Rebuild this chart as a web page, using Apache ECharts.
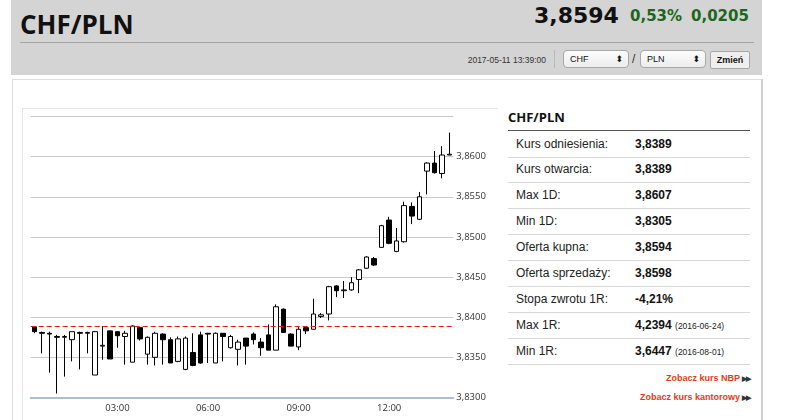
<!DOCTYPE html>
<html>
<head>
    <meta charset="utf-8">
    <title>CHF/PLN</title>
    <script src="https://cdn.jsdelivr.net/npm/echarts@6.0.0/dist/echarts.min.js"></script>
    <style>
        body {
            margin: 0;
            width: 786px;
            height: 420px;
            overflow: hidden;
            background: #fff;
            position: relative;
            font-family: 'Liberation Sans', Arial, sans-serif;
        }
        .abs { position: absolute; }
        #hdr {
            left: 11px; top: 0; width: 751px; height: 75px;
            background: #d4d4d4;
        }
        #hdrTitle {
            left: 20px; top: 11px;
            font: bold 26px/26px 'Open Sans', sans-serif;
            color: #111;
        }
        #hdrLine { left: 20px; top: 42px; width: 734px; height: 1px; background: #a4a4a4; }
        .num { font-family: 'DejaVu Sans', sans-serif; font-weight: bold; white-space: nowrap; }
        #price { left: 534px; top: 5px; font-size: 22px; line-height: 22px; color: #111; }
        #pct { left: 630px; top: 9px; font-size: 15px; line-height: 15px; color: #1c661c; }
        #chg { left: 691px; top: 9px; font-size: 15px; line-height: 15px; color: #1c661c; }
        #date { right: 240px; top: 54px; font-size: 8.5px; line-height: 12px; color: #333; }
        #vsep { left: 554px; top: 50px; width: 1px; height: 18px; background: #b8b8b8; }
        .sel {
            top: 50px; height: 18px; width: 66px; box-sizing: border-box;
            border: 1px solid #a8a8a8; border-radius: 4px;
            background: linear-gradient(#fdfdfd, #ececec);
            font-size: 9px; line-height: 16px; padding-left: 6px; color: #111;
        }
        .sel .arr { position: absolute; right: 5px; top: 0; font: 9px/16px 'DejaVu Sans', sans-serif; }
        #slash { left: 632px; top: 52px; font-size: 12px; line-height: 14px; color: #333; }
        #btn {
            left: 710px; top: 51px; width: 40px; height: 18px; box-sizing: border-box;
            border: 1px solid #a8a8a8; border-radius: 2px; background: #efefef;
            font-size: 9px; font-weight: bold; line-height: 16px; text-align: center; color: #111;
        }
        #outerBox {
            left: 12px; top: 79px; width: 748px; height: 360px;
            border: 1px solid #dedede; border-right: 2px solid #cfcfcf;
        }
        #innerBox {
            left: 22px; top: 108px; width: 475px; height: 330px;
            border-left: 1px solid #e6e6e6; border-top: 1px solid #e6e6e6;
        }
        #chart { left: 0; top: 100px; width: 500px; height: 320px; }
        #tblTitle { left: 508px; top: 109px; font: bold 13px/16px 'Open Sans', sans-serif; color: #111; }
        #tblLine { left: 508px; top: 130px; width: 242px; height: 1px; background: #555; }
        .row {
            left: 508px; width: 242px; height: 26px; box-sizing: border-box;
            border-bottom: 1px solid #d8d8d8; font-size: 12px; line-height: 25px; color: #222;
        }
        .row .lab { position: absolute; left: 8px; }
        .row .val { position: absolute; left: 127px; font-weight: bold; color: #111; }
        .row .dt { font-size: 8.5px; font-weight: normal; color: #222; }
        .lnk { right: 36px; font-size: 9px; font-weight: bold; color: #e63a1c; white-space: nowrap; }
        .lnk span { color: #333; font-size: 7px; letter-spacing: -1px; margin-left: 2px; }
    </style>
</head>
<body>
<div class="abs" id="hdr"></div>
<div class="abs" id="hdrTitle">CHF/PLN</div>
<div class="abs" id="hdrLine"></div>
<div class="abs num" id="price">3,8594</div>
<div class="abs num" id="pct">0,53%</div>
<div class="abs num" id="chg">0,0205</div>
<div class="abs" id="date">2017-05-11 13:39:00</div>
<div class="abs" id="vsep"></div>
<div class="abs sel" style="left:563px">CHF<span class="arr">&#x2B0D;</span></div>
<div class="abs" id="slash">/</div>
<div class="abs sel" style="left:640px">PLN<span class="arr">&#x2B0D;</span></div>
<div class="abs" id="btn">Zmień</div>

<div class="abs" id="outerBox"></div>
<div class="abs" id="innerBox"></div>
<div class="abs" id="chart"></div>

<div class="abs" id="tblTitle">CHF/PLN</div>
<div class="abs" id="tblLine"></div>
<div id="tbl"></div>
<div class="abs lnk" style="top:373px">Zobacz kurs NBP<span>&#9654;&#9654;</span></div>
<div class="abs lnk" style="top:392px">Zobacz kurs kantorowy<span>&#9654;&#9654;</span></div>

<script>
    // 15-minute candles, 11 May 2017
    const times = [
        '00:15','00:30','00:45','01:00','01:15','01:30','01:45','02:00',
        '02:15','02:30','02:45','03:00','03:15','03:30','03:45','04:00',
        '04:15','04:30','04:45','05:00','05:15','05:30','05:45','06:00',
        '06:15','06:30','06:45','07:00','07:15','07:30','07:45','08:00',
        '08:15','08:30','08:45','09:00','09:15','09:30','09:45','10:00',
        '10:15','10:30','10:45','11:00','11:15','11:30','11:45','12:00',
        '12:15','12:30','12:45','13:00','13:15','13:30','13:45','14:00'
    ];
    // [open, close, low, high]
    const candles = [
        [3.8388, 3.8382, 3.8380, 3.8389], [3.8381, 3.8380, 3.8355, 3.8382],
        [3.8380, 3.8379, 3.8331, 3.8382], [3.8376, 3.8375, 3.8305, 3.8378],
        [3.8375, 3.8376, 3.8326, 3.8378], [3.8372, 3.8382, 3.8345, 3.8382],
        [3.8381, 3.8380, 3.8335, 3.8382], [3.8380, 3.8381, 3.8355, 3.8382],
        [3.8328, 3.8382, 3.8328, 3.8383], [3.8364, 3.8365, 3.8347, 3.8389],
        [3.8383, 3.8348, 3.8348, 3.8383], [3.8382, 3.8377, 3.8362, 3.8382],
        [3.8376, 3.8380, 3.8341, 3.8383], [3.8344, 3.8389, 3.8344, 3.8390],
        [3.8387, 3.8373, 3.8371, 3.8388], [3.8354, 3.8375, 3.8341, 3.8376],
        [3.8350, 3.8380, 3.8340, 3.8382], [3.8379, 3.8372, 3.8341, 3.8380],
        [3.8372, 3.8343, 3.8343, 3.8375], [3.8345, 3.8373, 3.8344, 3.8376],
        [3.8335, 3.8374, 3.8334, 3.8376], [3.8356, 3.8340, 3.8339, 3.8380],
        [3.8378, 3.8343, 3.8342, 3.8382], [3.8380, 3.8379, 3.8343, 3.8380],
        [3.8343, 3.8380, 3.8343, 3.8381], [3.8380, 3.8376, 3.8345, 3.8380],
        [3.8362, 3.8376, 3.8361, 3.8378], [3.8360, 3.8369, 3.8340, 3.8372],
        [3.8374, 3.8364, 3.8341, 3.8374], [3.8379, 3.8372, 3.8366, 3.8381],
        [3.8369, 3.8362, 3.8352, 3.8374], [3.8378, 3.8359, 3.8359, 3.8391],
        [3.8359, 3.8413, 3.8359, 3.8416], [3.8410, 3.8381, 3.8381, 3.8411],
        [3.8379, 3.8364, 3.8364, 3.8380], [3.8363, 3.8385, 3.8359, 3.8388],
        [3.8387, 3.8383, 3.8379, 3.8389], [3.8385, 3.8404, 3.8385, 3.8423],
        [3.8401, 3.8403, 3.8399, 3.8405], [3.8404, 3.8438, 3.8396, 3.8439],
        [3.8439, 3.8433, 3.8425, 3.8440], [3.8433, 3.8434, 3.8424, 3.8445],
        [3.8434, 3.8443, 3.8433, 3.8450], [3.8447, 3.8459, 3.8430, 3.8460],
        [3.8461, 3.8475, 3.8460, 3.8476], [3.8473, 3.8465, 3.8464, 3.8475],
        [3.8487, 3.8514, 3.8487, 3.8515], [3.8521, 3.8492, 3.8491, 3.8525],
        [3.8482, 3.8495, 3.8481, 3.8511], [3.8494, 3.8539, 3.8493, 3.8544],
        [3.8538, 3.8526, 3.8516, 3.8543], [3.8522, 3.8550, 3.8521, 3.8556],
        [3.8582, 3.8592, 3.8553, 3.8593], [3.8592, 3.8580, 3.8579, 3.8607],
        [3.8579, 3.8602, 3.8573, 3.8613], [3.8602, 3.8603, 3.8602, 3.8630]
    ];
    const referenceRate = 3.8389;
    const timeTicks = ['03:00', '06:00', '09:00', '12:00'];
    const yMin = 3.830, yMax = 3.865, yStep = 0.005;

    const tableLabels = ['Kurs odniesienia:', 'Kurs otwarcia:', 'Max 1D:', 'Min 1D:', 'Oferta kupna:',
        'Oferta sprzedaży:', 'Stopa zwrotu 1R:', 'Max 1R:', 'Min 1R:'];
    const tableValues = ['3,8389', '3,8389', '3,8607', '3,8305', '3,8594', '3,8598', '-4,21%', '4,2394', '3,6447'];
    const tableDates = ['', '', '', '', '', '', '', '(2016-06-24)', '(2016-08-01)'];

    // side table
    const tbl = document.getElementById('tbl');
    tableLabels.forEach((lab, i) => {
        const row = document.createElement('div');
        row.className = 'abs row';
        row.style.top = (131.5 + 25.9 * i) + 'px';
        const dt = tableDates[i] ? ` <span class="dt">${tableDates[i]}</span>` : '';
        row.innerHTML = `<span class="lab">${lab}</span><span class="val">${tableValues[i]}${dt}</span>`;
        tbl.appendChild(row);
    });

    const showTick = (idx, val) => timeTicks.includes(val);

    const myChart = echarts.init(document.getElementById('chart'));
    myChart.setOption({
        animation: false,
        grid: { left: 30.7, right: 46.7, top: 16.5, bottom: 22.5 },
        xAxis: {
            type: 'category',
            data: times,
            boundaryGap: true,
            axisLine: { lineStyle: { color: '#aebdd1', width: 2 } },
            axisTick: { interval: showTick, alignWithLabel: true, length: 5, lineStyle: { color: '#aebdd1' } },
            axisLabel: { interval: showTick, margin: 6, fontSize: 9.5, color: '#333', fontFamily: 'Open Sans' },
            splitLine: { show: false }
        },
        yAxis: {
            type: 'value',
            position: 'right',
            min: yMin,
            max: yMax,
            interval: yStep,
            axisLine: { show: false },
            axisTick: { show: false },
            splitLine: { lineStyle: { color: '#c8c8c8', width: 1 } },
            axisLabel: {
                showMaxLabel: false,
                margin: 3,
                padding: [0, 0, 9, 0],
                fontSize: 9.5,
                color: '#333',
                fontFamily: 'Open Sans',
                formatter: v => v.toFixed(4).replace('.', ',')
            }
        },
        series: [{
            type: 'candlestick',
            data: candles,
            barWidth: 5,
            itemStyle: {
                color: '#ffffff',
                color0: '#000000',
                borderColor: '#000000',
                borderColor0: '#000000',
                borderWidth: 1
            },
            markLine: {
                silent: true,
                symbol: 'none',
                precision: 4,
                label: { show: false },
                lineStyle: { color: '#e41b1b', type: [5, 3], width: 1.2 },
                data: [{ yAxis: referenceRate }]
            }
        }]
    });
</script>
</body>
</html>
